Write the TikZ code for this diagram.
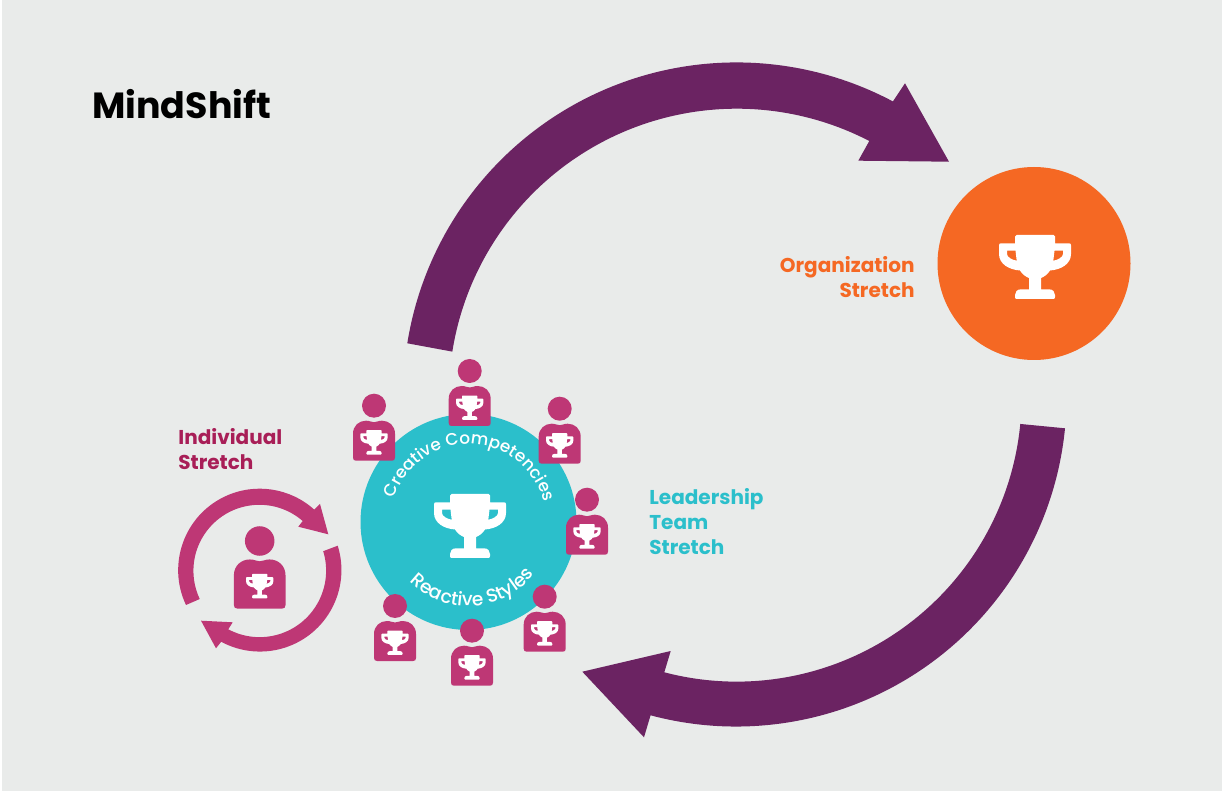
\documentclass[tikz,border=0pt]{standalone}
\usepackage{fontspec}
\setmainfont{Poppins}
\newfontfamily\arcfont{Poppins Medium}
\usetikzlibrary{decorations.text}

\definecolor{panelgrey}{HTML}{E9EBEA}
\definecolor{bigarrow}{HTML}{6B2362}
\definecolor{orgorange}{HTML}{F56823}
\definecolor{teamteal}{HTML}{2BBFCB}
\definecolor{personpink}{HTML}{BE3775}
\definecolor{indivred}{HTML}{A81E57}

\tikzset{
	x=0.02cm, y=-0.02cm,
	heading/.style={font=\fontsize{20.7}{25}\selectfont\bfseries, inner sep=0pt, anchor=west},
	stretchlabel/.style={font=\fontsize{11.4}{14.2}\selectfont\bfseries, inner sep=0pt, align=left, anchor=west},
	trophy/.pic={
		\fill[white, even odd rule, pic actions]
			(-18.5,-32) -- (18.5,-32) .. controls (19.5,-32) and (20,-31.5) .. (20,-30.5) -- (20,-23.7)
			-- (34,-23.7) .. controls (35.4,-23.7) and (36,-23) .. (36,-21.7) -- (36,-13)
			.. controls (36,-3) and (26,2.7) .. (15,3.5) .. controls (13,7) and (9,10) .. (6,11)
			-- (6,22.3) -- (14,22.3) .. controls (18,22.3) and (20,25) .. (20,28) -- (20,30)
			.. controls (20,31.4) and (19.4,32) .. (18,32) -- (-18,32)
			.. controls (-19.4,32) and (-20,31.4) .. (-20,30) -- (-20,28)
			.. controls (-20,25) and (-18,22.3) .. (-14,22.3) -- (-6,22.3) -- (-6,11)
			.. controls (-9,10) and (-13,7) .. (-15,3.5) .. controls (-26,2.7) and (-36,-3) .. (-36,-13)
			-- (-36,-21.7) .. controls (-36,-23) and (-35.4,-23.7) .. (-34,-23.7) -- (-20,-23.7)
			-- (-20,-30.5) .. controls (-20,-31.5) and (-19.5,-32) .. (-18.5,-32) -- cycle
			(19.5,-16.3) -- (28,-16.3) -- (28,-13) .. controls (28,-10) and (23,-7) .. (18.3,-6.3) -- cycle
			(-19.5,-16.3) -- (-28,-16.3) -- (-28,-13) .. controls (-28,-10) and (-23,-7) .. (-18.3,-6.3) -- cycle;
	},
	person/.pic={
		\fill[personpink] (0,0) circle[radius=12];
		\fill[personpink]
			(-21,28) .. controls (-21,20) and (-15,15) .. (-8,15) .. controls (-4,15) and (-3,16.5) .. (0,16.5)
			.. controls (3,16.5) and (4,15) .. (8,15) .. controls (15,15) and (21,20) .. (21,28)
			-- (21,52) .. controls (21,54) and (20,55) .. (18,55) -- (-18,55)
			.. controls (-20,55) and (-21,54) .. (-21,52) -- cycle;
		\pic[scale=0.38] at (0,36.7) {trophy};
	},
}

\begin{document}
\begin{tikzpicture}
	\useasboundingbox (0,0) rectangle (1224,793);

	% page and panel
	\fill[white] (0,0) rectangle (1224,793);
	\fill[panelgrey] (2,0) rectangle (1222,791);

	% big arrow, team to organization
	\fill[bigarrow] (407.3,343.3) arc[start angle=189.05, end angle=298, radius=333.3]
		-- (905,83.3) -- (949,161.7) -- (858.3,160.7) -- (869.3,141)
		arc[start angle=297.4, end angle=189, radius=288] -- cycle;

	% big arrow, organization to team
	\fill[bigarrow] (1065,428.3) arc[start angle=5.6, end angle=105, radius=330.5]
		-- (644,737.3) -- (582.3,671.7) -- (670.7,651) -- (664.3,672.3)
		arc[start angle=104.7, end angle=5.5, radius=285] -- cycle;

	% organization
	\fill[orgorange] (1034,263.5) circle[radius=96.5];
	\pic at (1035,267) {trophy};
	\node[stretchlabel, text=orgorange, align=right, anchor=east] (orglabel) at (915,277) {Organization\\Stretch};

	% team
	\fill[teamteal] (468.5,522) circle[radius=108];
	\pic at (470,526) {trophy};
	\path[decorate, decoration={text along path, text align=center,
		text={|\arcfont\fontsize{9.6}{12}\selectfont\color{white}|Creative Competencies}}]
		(390.5,522) arc[start angle=180, end angle=363, radius=78];
	\path[decorate, decoration={text along path, text align=center,
		text={|\arcfont\fontsize{10.6}{12}\selectfont\color{white}|Reactive Styles}}]
		(398.4,568.4) arc[start angle=146.5, end angle=26.5, radius=84];
	\node[stretchlabel, text=teamteal] (teamlabel) at (649,521.5) {Leadership\\Team\\Stretch};

	% people round the team
	\foreach \headx/\heady in {469.7/371, 374/405.7, 559.7/408.7, 587/499.7, 544.7/596.7, 395/606, 472/630.7}
		\pic at (\headx,\heady) {person};

	% individual
	\pic[scale=1.23] at (259.7,541) {person};
	\fill[personpink] (186,605) arc[start angle=154.7, end angle=312, radius=81.5]
		-- (320,504) -- (328.3,534.3) -- (298.3,526.7) -- (302.7,521)
		arc[start angle=311, end angle=154.7, radius=66] -- cycle;
	\fill[personpink] (337.7,545.7) arc[start angle=-17.4, end angle=118.4, radius=81.5]
		-- (216,648.3) -- (201,620.7) -- (232.7,622.3) -- (228.3,629.3)
		arc[start angle=118.1, end angle=-17, radius=66.5] -- cycle;
	\node[stretchlabel, text=indivred] (indivlabel) at (178,449) {Individual\\Stretch};

	% title
	\node[heading] (title) at (92,104.5) {MindShift};
\end{tikzpicture}
\end{document}
